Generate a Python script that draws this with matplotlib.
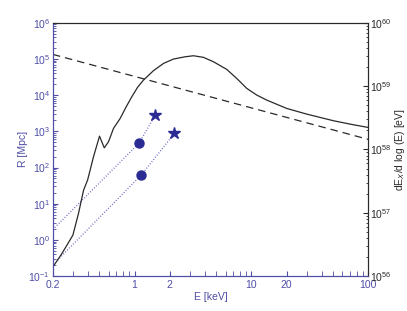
#!/usr/bin/env python3
"""
X-ray energy spectrum vs. distance reach (R) -- twin log axes
"""

import matplotlib
matplotlib.use('Agg')
import matplotlib.pyplot as plt
from matplotlib.ticker import LogLocator, FixedLocator, NullFormatter, FixedFormatter
import numpy as np

# Spectrum dE_X/dlog(E) [eV] (solid, right axis)
spec_E = [0.2, 0.239, 0.2965, 0.331, 0.366, 0.396, 0.445, 0.501, 0.550, 0.598,
          0.660, 0.753, 0.848, 0.947, 1.059, 1.19, 1.45, 1.77, 2.15, 2.71,
          3.19, 3.88, 4.73, 6.15, 7.48, 9.12, 11.1, 13.5, 20.0, 29.7,
          50.2, 69.7, 100]
spec_val = [1.40e56, 2.28e56, 4.44e56, 9.76e56, 2.28e57, 3.28e57, 7.66e57, 1.62e58,
            1.06e58, 1.32e58, 2.15e58, 3.09e58, 4.72e58, 6.79e58, 9.53e58, 1.24e59,
            1.75e59, 2.28e59, 2.67e59, 2.90e59, 3.01e59, 2.84e59, 2.42e59, 1.83e59,
            1.32e59, 9.18e58, 7.21e58, 6.01e58, 4.44e58, 3.61e58, 2.84e58, 2.51e58,
            2.22e58]

# Power-law reference (dashed, right axis)
ref_E = [0.2, 100]
ref_val = [3.16e59, 1.44e58]

# Distance reach R [Mpc] (left axis)
track1_E = [0.2, 1.10, 1.50]
track1_R = [1.95, 484, 2812]
track2_E = [0.219, 1.14, 2.19]
track2_R = [0.278, 62, 877]
circle_E = [1.10, 1.14]
circle_R = [484, 62]
star_E = [1.50, 2.19]
star_R = [2812, 877]

xticks = [0.2, 1, 2, 10, 20, 100]
xticklabels = ['0.2', '1', '2', '10', '20', '100']

blue_axis = '#4e4ea6'
blue_mark = '#2b2b94'
dark = '#2a2a2a'

plt.rcParams['font.family'] = ['Liberation Sans', 'DejaVu Sans']
plt.rcParams['mathtext.fontset'] = 'custom'
plt.rcParams['mathtext.rm'] = 'Liberation Sans'

fig = plt.figure(figsize=(4.07, 3.11), dpi=100)
ax = fig.add_axes([0.130, 0.112, 0.775, 0.815])
ax2 = ax.twinx()

# left axis: R
ax.plot(track1_E, track1_R, linestyle=(0, (0.6, 1.4)), color='#5a5ac0', linewidth=1.0)
ax.plot(track2_E, track2_R, linestyle=(0, (0.6, 1.4)), color='#5a5ac0', linewidth=1.0)
ax.plot(circle_E, circle_R, 'o', color=blue_mark, markersize=6.5, linestyle='none')
ax.plot(star_E, star_R, '*', color=blue_mark, markersize=9, linestyle='none')

# right axis: spectrum
ax2.plot(spec_E, spec_val, color=dark, linewidth=0.9)
ax2.plot(ref_E, ref_val, color=dark, linewidth=0.9, linestyle=(0, (6, 4)))

ax.set_xscale('log')
ax.set_yscale('log')
ax2.set_yscale('log')
ax.set_xlim(0.2, 100)
ax.set_ylim(1e-1, 1e6)
ax2.set_ylim(1e56, 1e60)

ax.xaxis.set_major_locator(FixedLocator(xticks))
ax.xaxis.set_major_formatter(FixedFormatter(xticklabels))
ax.xaxis.set_minor_locator(LogLocator(base=10, subs=np.arange(2, 10), numticks=20))
ax.xaxis.set_minor_formatter(NullFormatter())

for a in (ax, ax2):
    a.yaxis.set_major_locator(LogLocator(base=10, numticks=20))
    a.yaxis.set_minor_locator(LogLocator(base=10, subs=np.arange(2, 10), numticks=20))
    a.yaxis.set_minor_formatter(NullFormatter())

ax.tick_params(axis='x', which='both', direction='in', colors=blue_axis, labelsize=7.5,
               top=False, pad=3, length=3.5)
ax.tick_params(axis='y', which='both', direction='in', colors=blue_axis, labelsize=7.5,
               pad=2)
ax.tick_params(axis='y', which='major', length=3.5)
ax.tick_params(axis='y', which='minor', length=1.8)

ax2.tick_params(axis='x', which='both', direction='in', color=dark, top=True,
                bottom=False, labeltop=False, labelbottom=False, length=3.5)
ax2.tick_params(axis='y', which='both', direction='in', colors=dark, labelsize=7.5,
                pad=1)
ax2.tick_params(axis='y', which='major', length=3.5)
ax2.tick_params(axis='y', which='minor', length=1.8)

for a in (ax, ax2):
    a.spines['left'].set_color(blue_axis)
    a.spines['bottom'].set_color(blue_axis)
    a.spines['top'].set_color(dark)
    a.spines['right'].set_color(dark)
    for s in a.spines.values():
        s.set_linewidth(0.8)

ax.set_xlabel('E [keV]', color=blue_axis, fontsize=7.5, labelpad=1)
ax.set_ylabel('R [Mpc]', color=blue_axis, fontsize=7.5, labelpad=0)
ax2.set_ylabel('dE$_X$/d log (E) [eV]', color=dark, fontsize=7.5, labelpad=1)

fig.savefig('out.png', dpi=100)
